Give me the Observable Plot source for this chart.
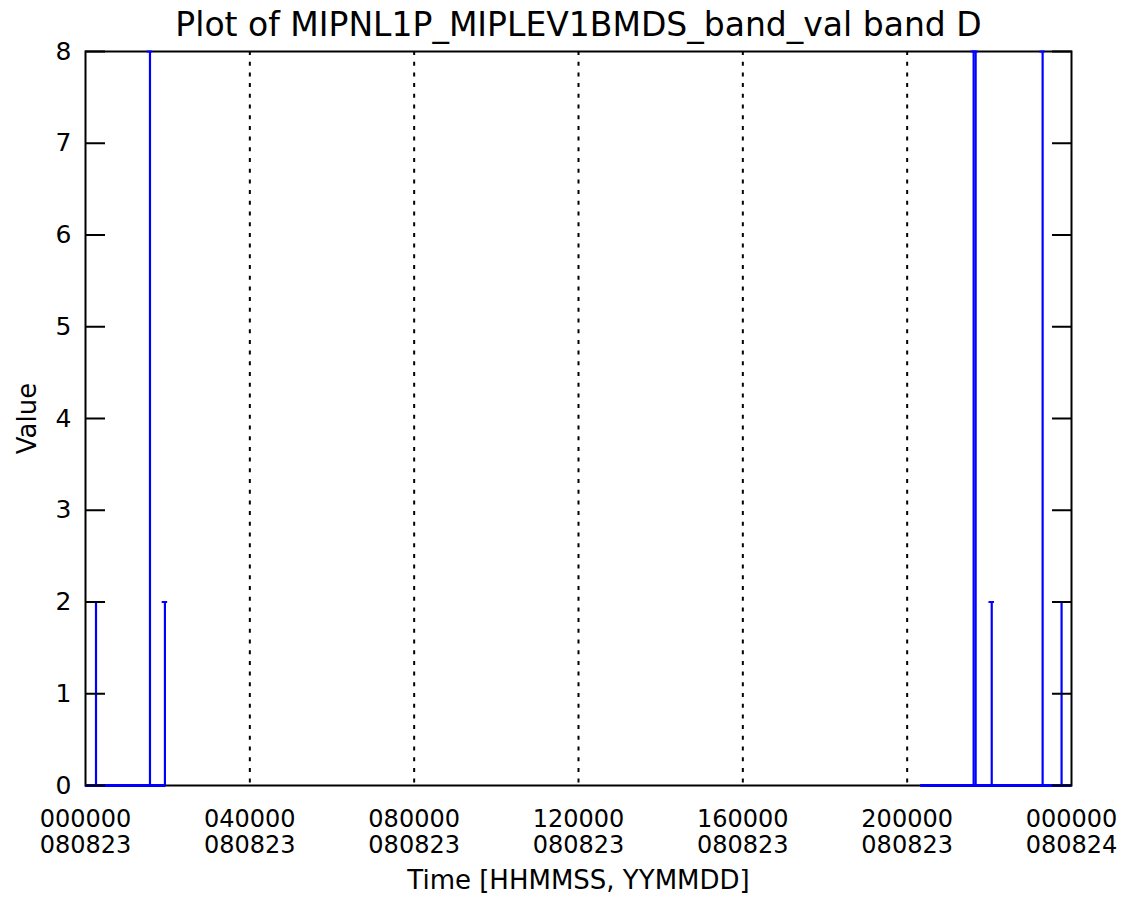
<!DOCTYPE html>
<html><head><meta charset="utf-8">
<script src="https://cdn.jsdelivr.net/npm/d3@7"></script>
<script src="https://cdn.jsdelivr.net/npm/@observablehq/plot@0.6"></script>
<style>body{margin:0;background:#fff} svg{display:block}</style>
</head><body><div id="chart"></div>
<script>
const titleText = "Plot of MIPNL1P_MIPLEV1BMDS_band_val band D";
const xLabel = "Time [HHMMSS, YYMMDD]";
const yLabel = "Value";
const xTicks = ["2008-08-23T00:00:00Z","2008-08-23T04:00:00Z","2008-08-23T08:00:00Z","2008-08-23T12:00:00Z","2008-08-23T16:00:00Z","2008-08-23T20:00:00Z","2008-08-24T00:00:00Z"];
const gridTicks = ["2008-08-23T04:00:00Z","2008-08-23T08:00:00Z","2008-08-23T12:00:00Z","2008-08-23T16:00:00Z","2008-08-23T20:00:00Z"];
const yTicks = [0,1,2,3,4,5,6,7,8];
const spikeTimes = ["2008-08-23T00:15:20Z","2008-08-23T01:34:10Z","2008-08-23T01:56:00Z","2008-08-23T21:37:05Z","2008-08-23T21:40:00Z","2008-08-23T22:03:30Z","2008-08-23T23:17:50Z","2008-08-23T23:45:30Z"];
const spikeValues = [2,8,2,8,8,2,8,2];
const zeroStart = ["2008-08-23T00:00:00Z","2008-08-23T20:19:40Z"];
const zeroEnd = ["2008-08-23T01:57:30Z","2008-08-24T00:00:00Z"];

const P = s => new Date(s);
const spikes = spikeTimes.map((t,i) => ({t: P(t), v: spikeValues[i]}));
const zeros = zeroStart.map((s,i) => ({start: P(s), end: P(zeroEnd[i])}));
const capHalf = 4 * 60 * 1000;
const fmtT = d3.utcFormat("%H%M%S"), fmtD = d3.utcFormat("%y%m%d");

const chart = Plot.plot({
  width: 1129, height: 910,
  marginLeft: 85, marginRight: 58, marginTop: 51, marginBottom: 125,
  style: {fontFamily: "DejaVu Sans", background: "#fff", color: "#000"},
  x: {type: "utc", domain: [P(xTicks[0]), P(xTicks[xTicks.length-1])]},
  y: {domain: [0, 8]},
  marks: [
    Plot.gridX(gridTicks.map(P), {stroke: "black", strokeOpacity: 1, strokeWidth: 2, strokeDasharray: "4,6.7"}),
    Plot.frame({stroke: "black", strokeWidth: 2}),
    Plot.ruleX(spikes, {x: "t", y1: 0, y2: "v", stroke: "#0000ff", strokeWidth: 2.2}),
    Plot.ruleY(spikes, {x1: d => new Date(+d.t - capHalf), x2: d => new Date(+d.t + capHalf), y: "v", stroke: "#0000ff", strokeWidth: 2}),
    Plot.ruleY(zeros, {x1: "start", x2: "end", y: 0, stroke: "#0000ff", strokeWidth: 3}),
    Plot.axisY(yTicks, {anchor: "left", tickSize: -20, strokeWidth: 2, tickFormat: () => "", label: null}),
    Plot.axisY(yTicks, {anchor: "right", tickSize: -20, strokeWidth: 2, tickFormat: () => "", label: null}),
    Plot.axisY(yTicks, {anchor: "left", tickSize: 0, tickPadding: 14, fontSize: 25, tickFormat: d3.format("d"), label: null}),
    Plot.axisX(xTicks.map(P), {tickSize: 0, tickPadding: 24, fontSize: 24, lineHeight: 1.05,
      tickFormat: d => fmtT(d) + "\n" + fmtD(d), label: null}),
    Plot.text([titleText], {frameAnchor: "top", dy: -26, lineAnchor: "middle", fontSize: 33}),
    Plot.text([xLabel], {frameAnchor: "bottom", dy: 95, lineAnchor: "middle", fontSize: 26}),
    Plot.text([yLabel], {frameAnchor: "left", dx: -58, rotate: -90, textAnchor: "middle", fontSize: 26})
  ]
});
document.getElementById("chart").appendChild(chart);
</script></body></html>
